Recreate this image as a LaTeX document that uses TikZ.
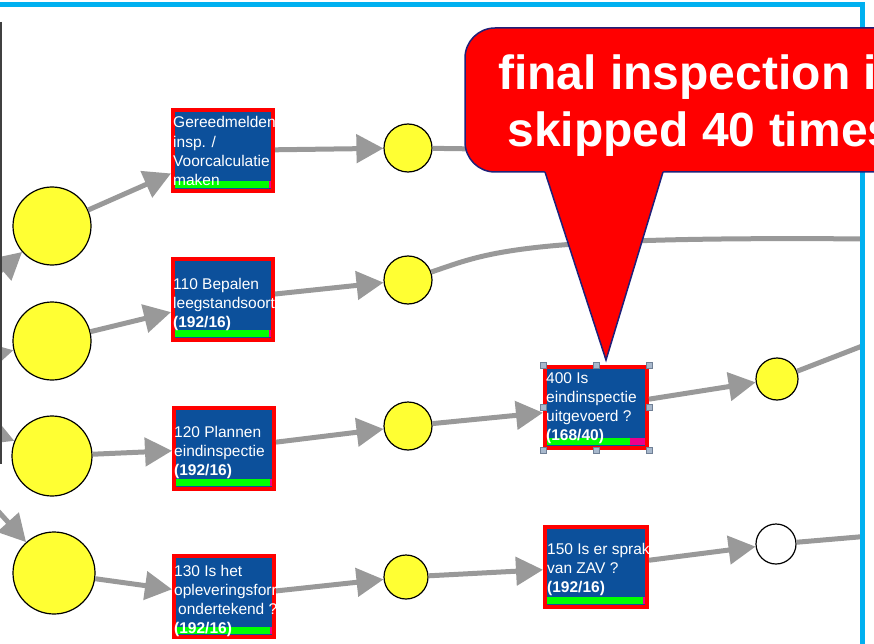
\documentclass[tikz,border=0pt]{standalone}
\usepackage{fontspec}
\setmainfont{Liberation Sans}
\usetikzlibrary{arrows.meta}

\definecolor{boxblue}{RGB}{12,80,155}
\definecolor{flowgray}{RGB}{153,153,153}
\definecolor{placeyellow}{RGB}{255,255,51}
\definecolor{framecyan}{RGB}{0,176,240}
\definecolor{calloutnavy}{RGB}{32,32,120}
\definecolor{handlefill}{RGB}{168,184,204}
\definecolor{handleedge}{RGB}{112,128,150}

\newcommand{\boxlines}[1]{\begin{tabular}[t]{@{}l@{}}#1\end{tabular}}

\begin{document}
\begin{tikzpicture}[x=1pt,y=-1pt]
\tikzset{act/.style = {rectangle,draw=red,line width=4pt,fill=boxblue,minimum width=100pt,minimum height=81pt,inner sep=0pt}}
\tikzset{acttext/.style = {anchor=base west,inner sep=0pt,text=white,font=\fontsize{15.5}{19.3}\selectfont}}
\tikzset{place/.style = {circle,draw=black,line width=1.2pt,fill=placeyellow,inner sep=0pt}}
\tikzset{flow/.style = {draw=flowgray,line width=5pt,-{Triangle[length=27pt,width=28pt]}}}
\tikzset{flowline/.style = {draw=flowgray,line width=5pt}}
\tikzset{handle/.style = {rectangle,draw=handleedge,fill=handlefill,line width=0.6pt,minimum size=6pt,inner sep=0pt}}
\useasboundingbox (0,0) rectangle (874,644);
\begin{scope}
\clip (0,0) rectangle (862,644);
% places
\node[place,minimum size=78pt] (p1) at (52,226) {};
\node[place,minimum size=78pt] (p2) at (52,341) {};
\node[place,minimum size=80pt] (p3) at (52,456) {};
\node[place,minimum size=82pt] (p4) at (54,573) {};
\node[place,minimum size=48pt] (q1) at (408,148) {};
\node[place,minimum size=48pt] (q2) at (408,280) {};
\node[place,minimum size=48pt] (q3) at (408,426) {};
\node[place,minimum size=44pt] (q4) at (406,577) {};
\node[place,minimum size=42pt] (q5) at (777,379) {};
\node[place,minimum size=40pt,fill=white] (q6) at (776,544) {};
% activities
\node[act] (b1) at (223,150.5) {};
\node[act] (b2) at (223,299.5) {};
\node[act] (b3) at (224,448.5) {};
\node[act] (b4) at (224,596.5) {};
\node[act,minimum width=102pt] (b400) at (596,407.5) {};
\node[act,minimum width=102pt,minimum height=80pt] (b150) at (596,567) {};
% loose ends
\coordinate (in1) at (-40,306);
\coordinate (in2) at (-40,363);
\coordinate (in3) at (-40,419);
\coordinate (in4) at (-40,469);
\coordinate (out1) at (480,149);
\coordinate (out2) at (870,239);
\coordinate (out5) at (870,343);
\coordinate (out6) at (870,536);
% edges
\draw[flow] (in1) to (p1);
\draw[flow] (in2) to (p2);
\draw[flow] (in3) to (p3);
\draw[flow] (in4) to (p4);
\draw[flow] (p1) to (b1);
\draw[flow] (p2) to (b2);
\draw[flow] (p3) to (b3);
\draw[flow] (p4) to (b4);
\draw[flow] (b1) to (q1);
\draw[flow] (b2) to (q2);
\draw[flow] (b3) to (q3);
\draw[flow] (b4) to (q4);
\draw[flow] (q3) to (b400);
\draw[flow] (q4) to (b150);
\draw[flow] (b400) to (q5);
\draw[flow] (b150) to (q6);
\draw[flowline] (q1) to (out1);
\draw[flowline] (q2) .. controls (490,252) and (520,236) .. (out2);
\draw[flowline] (q5) to (out5);
\draw[flowline] (q6) to (out6);
% progress bars
\foreach \b/\m in {b1/6,b2/6,b3/6,b4/6,b400/19,b150/6} {
  \fill[green] ([shift={(4,-12)}]\b.south west) rectangle ([shift={(-\m,-5)}]\b.south east);
  \fill[magenta] ([shift={(-\m,-12)}]\b.south east) rectangle ([shift={(-4,-5)}]\b.south east);
}
% labels
\node[acttext] (t1) at (173,128) {\boxlines{Gereedmelden\\insp. /\\Voorcalculatie\\maken}};
\node[acttext] (t2) at (173,289) {\boxlines{110 Bepalen\\leegstandsoort\\\textbf{(192/16)}}};
\node[acttext] (t3) at (174,437) {\boxlines{120 Plannen\\eindinspectie\\\textbf{(192/16)}}};
\node[acttext] (t4) at (174,576) {\boxlines{130 Is het\\opleveringsforr\\\hspace{4pt}ondertekend ?\\\textbf{(192/16)}}};
\node[acttext] (t400) at (546,383) {\boxlines{400 Is\\eindinspectie\\uitgevoerd ?\\\textbf{(168/40)}}};
\node[acttext] (t150) at (547,554) {\boxlines{150 Is er sprak\\van ZAV ?\\\textbf{(192/16)}}};
% selection
\foreach \a/\n in {north west/1,north/2,north east/3,west/4,east/5,south west/6,south/7,south east/8}
  \node[handle] (h\n) at (b400.\a) {};
\end{scope}
% frame
\draw[framecyan,line width=5pt] (0,5) -- (862,5) -- (862,650);
\draw[black!75,line width=1.5pt] (1,22) -- (1,464);
% callout
\draw[fill=red,draw=calloutnavy,line width=1.5pt,rounded corners=30pt] (465,28) rectangle (935,172);
\fill[red] (544.35,170) -- (606,360) -- (663.6,170) -- cycle;
\draw[calloutnavy,line width=1.5pt] (545,172) -- (606,360) -- (663,172);
\node[anchor=base,inner sep=0pt,text=white,font=\fontsize{48}{57}\selectfont\bfseries] (note) at (701,90)
  {\begin{tabular}[t]{@{}c@{}}final inspection is\\skipped 40 times\end{tabular}};
\end{tikzpicture}
\end{document}
